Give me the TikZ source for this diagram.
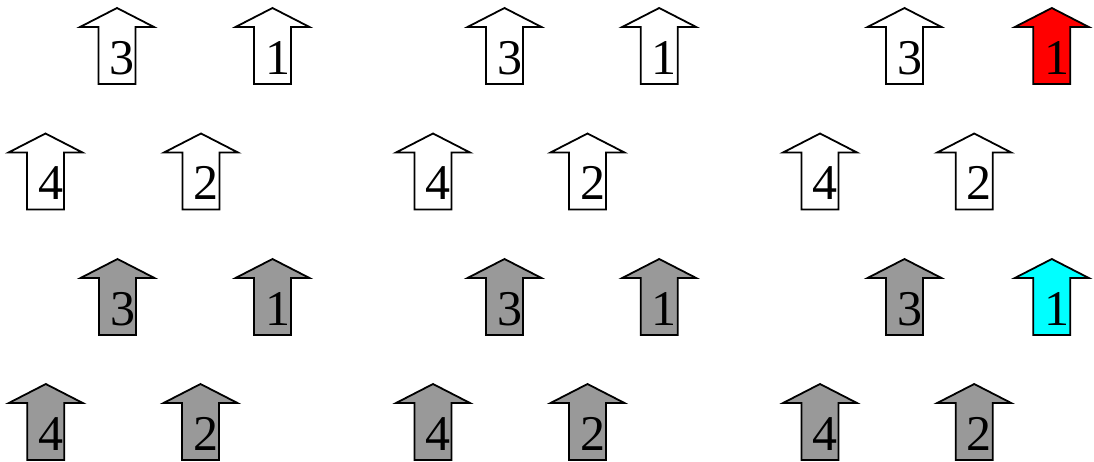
\documentclass[tikz,border=0pt]{standalone}
\usepackage{fontspec}
\setmainfont{Liberation Serif}
\newfontfamily\digitfont{Liberation Serif}
\tikzset{
  arrowshape/.pic={
    \draw[pic actions] (0,0) -- (37,19) -- (18.5,19) -- (18.5,76) -- (-18.5,76) -- (-18.5,19) -- (-37,19) -- cycle;
  },
  arr/.style={line width=1.8pt, draw=black, line join=miter},
  digit/.style={anchor=base, inner sep=0pt, font=\digitfont\fontsize{50}{50}\selectfont},
}
\definecolor{arrgray}{RGB}{153,153,153}
\definecolor{arrred}{RGB}{255,0,0}
\definecolor{arrcyan}{RGB}{0,255,255}
\newcommand\myarrow[5]{% name, x, ytop, fill, label
  \pic[arr, fill=#4] at (#2,#3) {arrowshape};
  \node[digit] (#1) at ({#2+5},{#3+66}) {#5};
}
\begin{document}
\begin{tikzpicture}[x=1pt,y=-1pt]
\useasboundingbox (0,0) rectangle (1094,461);
% group 1
\myarrow{a3}{117}{8}{white}{3}
\myarrow{a1}{272.5}{8}{white}{1}
\myarrow{a4}{45.5}{133.5}{white}{4}
\myarrow{a2}{201}{133.5}{white}{2}
\myarrow{b3}{117.5}{259}{arrgray}{3}
\myarrow{b1}{272.5}{259}{arrgray}{1}
\myarrow{b4}{45.8}{384}{arrgray}{4}
\myarrow{b2}{200.5}{384}{arrgray}{2}
% group 2
\myarrow{c3}{504.5}{8}{white}{3}
\myarrow{c1}{659.2}{8}{white}{1}
\myarrow{c4}{433}{133.5}{white}{4}
\myarrow{c2}{587.5}{133.5}{white}{2}
\myarrow{d3}{504.5}{259}{arrgray}{3}
\myarrow{d1}{659.2}{259}{arrgray}{1}
\myarrow{d4}{433}{384}{arrgray}{4}
\myarrow{d2}{587.5}{384}{arrgray}{2}
% group 3
\myarrow{e3}{904.5}{8}{white}{3}
\myarrow{e1}{1051.8}{8}{arrred}{1}
\myarrow{e4}{820}{133.5}{white}{4}
\myarrow{e2}{974.2}{133.5}{white}{2}
\myarrow{f3}{904.5}{259}{arrgray}{3}
\myarrow{f1}{1051.8}{259}{arrcyan}{1}
\myarrow{f4}{820}{384}{arrgray}{4}
\myarrow{f2}{974.2}{384}{arrgray}{2}
\end{tikzpicture}
\end{document}
